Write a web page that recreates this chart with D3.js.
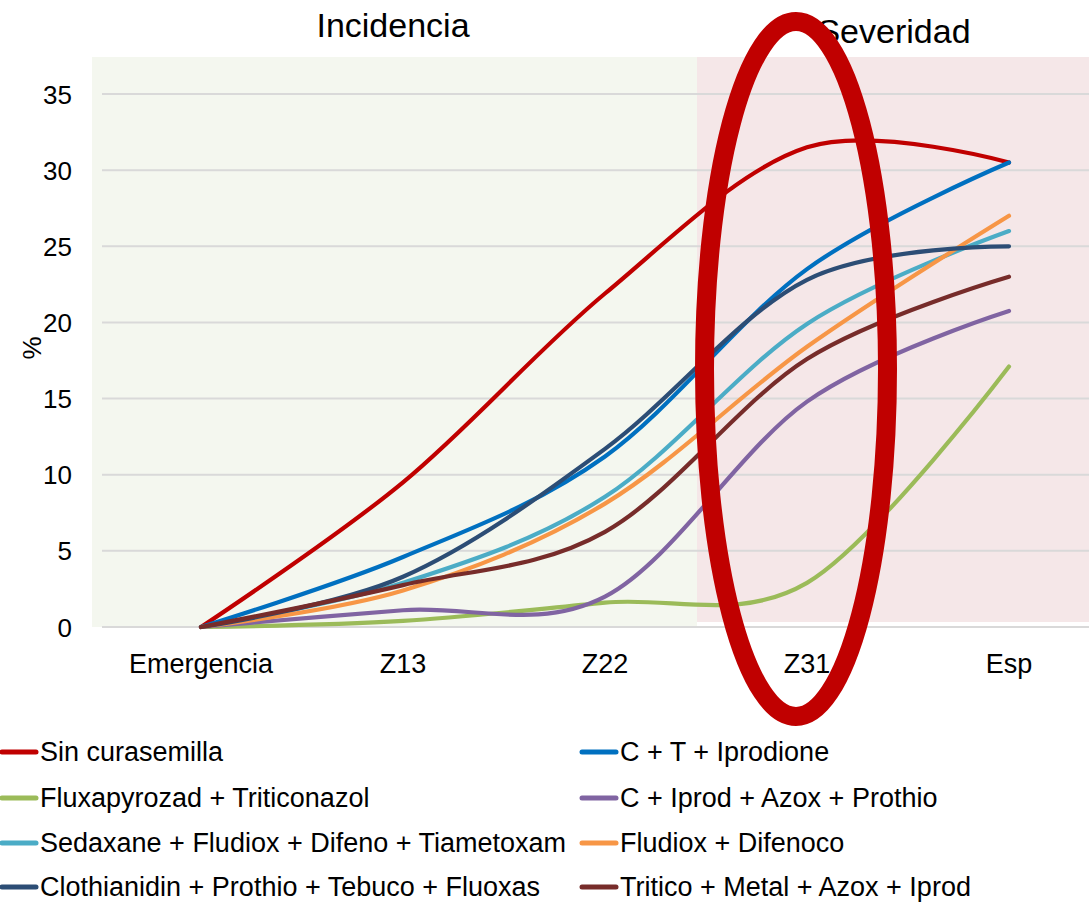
<!DOCTYPE html>
<html><head><meta charset="utf-8">
<script src="https://cdn.jsdelivr.net/npm/d3@7"></script>
<style>
html,body{margin:0;padding:0;background:#fff;}
text{font-family:"Liberation Sans",Arial,sans-serif;fill:#000;}
</style></head>
<body>
<svg id="chart" width="1089" height="902"></svg>
<script>
const categories = ["Emergencia","Z13","Z22","Z31","Esp"];
const seriesNames = [
  "Sin curasemilla",
  "C + T + Iprodione",
  "Fluxapyrozad + Triticonazol",
  "C + Iprod + Azox + Prothio",
  "Sedaxane + Fludiox + Difeno + Tiametoxam",
  "Fludiox + Difenoco",
  "Clothianidin + Prothio + Tebuco + Fluoxas",
  "Tritico + Metal + Azox + Iprod"
];
const sinCurasemilla = [0, 9.5, 21.9, 31.5, 30.5];
const cTIprodione    = [0, 4.6, 11.2, 23.5, 30.5];
const fluxapyrozad   = [0, 0.4, 1.6, 2.9, 17.1];
const cIprodAzox     = [0, 1.1, 2.0, 14.8, 20.75];
const sedaxane       = [0, 2.9, 8.55, 19.9, 26.0];
const fludiox        = [0, 2.4, 8.1, 18.4, 27.0];
const clothianidin   = [0, 3.3, 11.7, 22.8, 25.0];
const tritico        = [0, 2.75, 6.25, 17.6, 23.0];
const seriesValues = [sinCurasemilla, cTIprodione, fluxapyrozad, cIprodAzox, sedaxane, fludiox, clothianidin, tritico];
const colors = ["#C00000","#0070C0","#9BBB59","#8064A2","#4BACC6","#F79646","#2C4D75","#772C2A"];
const yTicks = [0,5,10,15,20,25,30,35];
const zoneLabels = ["Incidencia","Severidad"];

const svg = d3.select("#chart");
const x = d3.scaleBand().domain(categories).range([100, 1110]);
const y = d3.scaleLinear().domain([0, 35]).range([627, 94]);
const cx = c => x(c) + x.bandwidth()/2;

// zone backgrounds
svg.append("rect").attr("x",92).attr("y",57).attr("width",605).attr("height",570).attr("fill","#F4F7EF");
svg.append("rect").attr("x",697).attr("y",57).attr("width",392).attr("height",565).attr("fill","#F5E7E8");

// y axis labels and gridlines
const yAxis = d3.axisLeft(y).tickValues(yTicks).tickSize(0).tickPadding(0);
const gy = svg.append("g").attr("transform","translate(72,0)").call(yAxis);
gy.select(".domain").remove();
gy.selectAll("text").attr("font-size",26).attr("font-family","Liberation Sans, Arial, sans-serif").attr("fill","#000").attr("dy","0.35em").attr("x",0);
svg.append("g").selectAll("line").data(yTicks).join("line")
  .attr("x1",102).attr("x2",1089).attr("y1",d=>y(d)).attr("y2",d=>y(d))
  .attr("stroke","#D9D9D9").attr("stroke-width",2);

// x axis labels
const xAxis = d3.axisBottom(x).tickSize(0).tickPadding(0);
const gx = svg.append("g").attr("transform","translate(0,627)").call(xAxis);
gx.select(".domain").remove();
gx.selectAll("text").attr("font-size",27).attr("font-family","Liberation Sans, Arial, sans-serif").attr("fill","#000").attr("y",46).attr("dy",0);

// y axis title
svg.append("text").attr("transform","translate(41,348) rotate(-90)").attr("text-anchor","middle")
  .attr("font-size",26).text("%");

// zone titles
svg.append("text").attr("x",393).attr("y",37).attr("text-anchor","middle").attr("font-size",34).text(zoneLabels[0]);
svg.append("text").attr("x",894).attr("y",43).attr("text-anchor","middle").attr("font-size",34).text(zoneLabels[1]);

// lines
const line = d3.line().x((d,i)=>cx(categories[i])).y(d=>y(d)).curve(d3.curveCardinal.tension(0));
svg.append("g").selectAll("path").data(seriesValues).join("path")
  .attr("d", d=>line(d)).attr("fill","none")
  .attr("stroke",(d,i)=>colors[i]).attr("stroke-width",4.2)
  .attr("stroke-linecap","round").attr("stroke-linejoin","round");

// highlight ellipse
svg.append("ellipse").attr("cx",796).attr("cy",369).attr("rx",91.5).attr("ry",347.5)
  .attr("fill","none").attr("stroke","#C00000").attr("stroke-width",19);

// legend
const legRows = [752, 798, 843, 887];
const legCols = [{lx:0, tx:40},{lx:580, tx:620}];
const leg = svg.append("g").selectAll("g").data(seriesNames).join("g")
  .attr("transform",(d,i)=>`translate(${legCols[i%2].lx},${legRows[Math.floor(i/2)]})`);
leg.append("line").attr("x1",2).attr("x2",36).attr("y1",0).attr("y2",0)
  .attr("stroke",(d,i)=>colors[i]).attr("stroke-width",5).attr("stroke-linecap","round");
leg.append("text").attr("x",40).attr("y",9).attr("font-size",27).text(d=>d);
</script>
</body></html>
